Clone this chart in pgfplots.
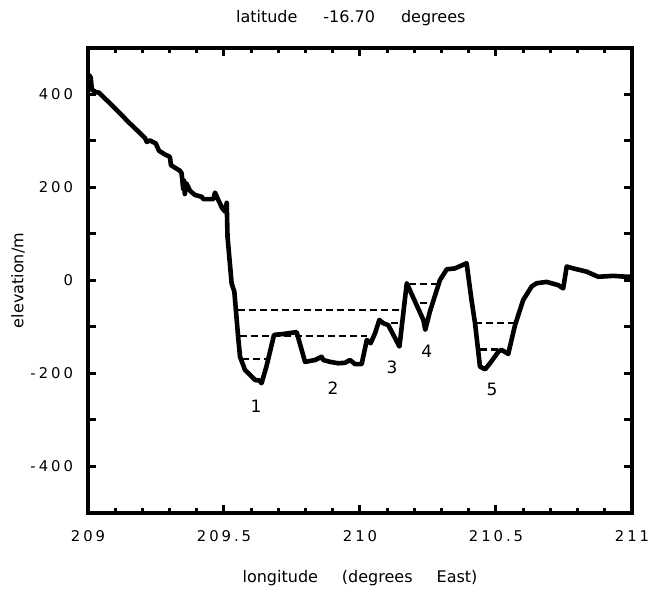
\documentclass[border=0pt]{standalone}
\usepackage{fontspec}
\setmainfont{DejaVu Sans}
\newfontfamily\tickfont[LetterSpace=20]{DejaVu Sans}
\usepackage{pgfplots}
\pgfplotsset{compat=1.18}

\begin{document}
\begin{tikzpicture}
\path[use as bounding box] (0,0) rectangle (325pt,296.5pt);
\begin{axis}[
    at={(44pt,40pt)}, anchor=south west,
    scale only axis,
    width=272pt, height=232.5pt,
    xmin=209, xmax=211, ymin=-500, ymax=500,
    xtick={209,209.5,210,210.5,211},
    xticklabels={209,209.5,210,210.5,211},
    minor x tick num=4,
    ytick={-400,-300,...,400},
    yticklabels={-400,,-200,,0,,200,,400},
    tick align=inside,
    major tick length=4pt,
    minor tick length=2.5pt,
    axis line style={line width=1.6pt},
    every tick/.style={line width=1.5pt, black},
    tick label style={font=\tickfont\fontsize{7.4}{8}\selectfont},
    xticklabel style={yshift=-5pt},
    yticklabel style={xshift=-4pt},
    every axis title shift=0pt,
    title={latitude\hspace{13pt}-16.70\hspace{13pt}degrees},
    title style={at={(axis description cs:0.483,1.0645)}, anchor=center, font=\fontsize{8}{9}\selectfont},
    xlabel={longitude\hspace{12pt}(degrees\hspace{12pt}East)},
    xlabel style={at={(axis description cs:0.5,-0.14)}, anchor=center, font=\fontsize{8}{9}\selectfont},
    ylabel={elevation/m},
    ylabel style={at={(axis description cs:-0.1287,0.5)}, anchor=center, font=\fontsize{8}{9}\selectfont},
]
% elevation profile
\addplot[line width=2.3pt, line join=round] coordinates {
(209.000,405) (209.004,442) (209.010,436) (209.014,412) (209.020,408)
(209.030,405) (209.040,404) (209.100,370) (209.150,340) (209.200,312)
(209.210,306) (209.216,298) (209.228,301) (209.249,295) (209.261,279)
(209.283,271) (209.301,266) (209.305,248) (209.338,236) (209.344,231)
(209.350,197) (209.353,215) (209.356,186) (209.362,209) (209.375,193)
(209.393,184) (209.418,180) (209.424,175) (209.461,175) (209.467,189)
(209.479,173) (209.494,155) (209.504,148) (209.510,167) (209.513,94)
(209.528,-6) (209.538,-24) (209.553,-128) (209.559,-164) (209.577,-192)
(209.614,-214) (209.630,-215) (209.638,-221) (209.656,-185) (209.684,-117)
(209.718,-115) (209.767,-111) (209.798,-175) (209.835,-171) (209.859,-164)
(209.865,-171) (209.890,-175) (209.920,-178) (209.945,-177) (209.963,-171)
(209.982,-180) (210.006,-180) (210.025,-128) (210.039,-135) (210.055,-114)
(210.071,-85) (210.086,-92) (210.104,-96) (210.145,-142) (210.172,-6)
(210.233,-85) (210.240,-106) (210.257,-67) (210.294,1) (210.319,24)
(210.349,26) (210.392,37) (210.410,-42) (210.423,-92) (210.441,-185)
(210.460,-191) (210.478,-178) (210.509,-153) (210.520,-149) (210.545,-158)
(210.570,-96) (210.600,-42) (210.631,-13) (210.649,-6) (210.686,-3)
(210.729,-10) (210.747,-17) (210.760,30) (210.784,26) (210.833,19)
(210.876,8) (210.931,10) (210.980,8) (211.000,8)
};
% pond levels
\pgfplotsset{pond/.style={line width=1.2pt, dash pattern=on 3.5pt off 2pt}}
\addplot[pond] coordinates {(209.553,-63) (210.145,-63)};
\addplot[pond] coordinates {(209.557,-120) (210.025,-120)};
\addplot[pond] coordinates {(209.565,-169) (209.656,-169)};
\addplot[pond] coordinates {(210.074,-91) (210.141,-91)};
\addplot[pond] coordinates {(210.180,-8) (210.294,-8)};
\addplot[pond] coordinates {(210.221,-49) (210.257,-49)};
\addplot[pond] coordinates {(210.423,-91) (210.570,-91)};
\addplot[pond] coordinates {(210.441,-148) (210.520,-148)};
% basin numbers
\addplot[only marks, mark=none, nodes near coords, point meta=explicit symbolic,
    every node near coord/.style={anchor=center, font=\fontsize{8.5}{9}\selectfont}]
    coordinates {(209.618,-271)[1] (209.901,-231)[2] (210.118,-186)[3] (210.246,-152)[4] (210.485,-234)[5]};
\end{axis}
\end{tikzpicture}
\end{document}
